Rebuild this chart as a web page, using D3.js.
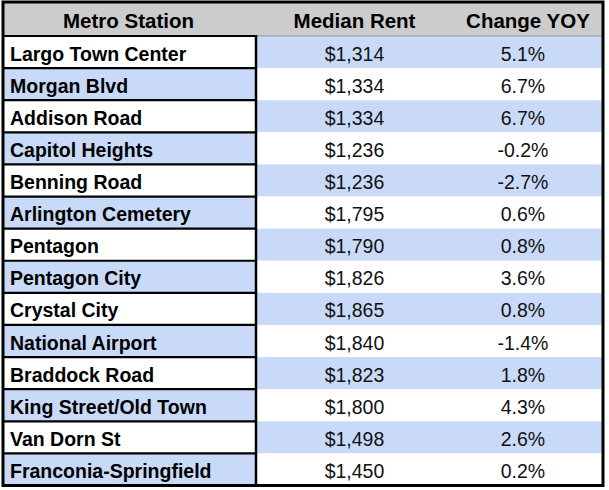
<!DOCTYPE html>
<html>
<head>
<meta charset="utf-8">
<script src="https://cdn.jsdelivr.net/npm/d3@7"></script>
<style>
html,body{margin:0;padding:0;background:#fff;}
svg{display:block;}
</style>
</head>
<body>
<script>
const headers = ["Metro Station", "Median Rent", "Change YOY"];
const stations = ["Largo Town Center","Morgan Blvd","Addison Road","Capitol Heights","Benning Road","Arlington Cemetery","Pentagon","Pentagon City","Crystal City","National Airport","Braddock Road","King Street/Old Town","Van Dorn St","Franconia-Springfield"];
const rents = [1314,1334,1334,1236,1236,1795,1790,1826,1865,1840,1823,1800,1498,1450];
const changes = [5.1,6.7,6.7,-0.2,-2.7,0.6,0.8,3.6,0.8,-1.4,1.8,4.3,2.6,0.2];

(function(){
const W = 609, H = 490;
const xL = 3, xR = 603, yT = 2, headBottom = 36, yB = 485.5;
const colEdges = [xL, 256, 453, xR];
const blue = "#c9daf8", gray = "#cccccc";

const svg = d3.select("body").append("svg").attr("width", W).attr("height", H);

const y = d3.scaleBand().domain(d3.range(stations.length)).range([headBottom, yB]).paddingInner(0).paddingOuter(0);
const loc = d3.formatLocale({decimal: ".", thousands: ",", grouping: [3], currency: ["$", ""], minus: "-"});
const fmtRent = loc.format("$,");
const fmtChg = v => loc.format(".1f")(v) + "%";

svg.append("rect").attr("x", xL).attr("y", yT).attr("width", xR-xL).attr("height", headBottom-yT).attr("fill", gray);

const rows = svg.selectAll("g.row").data(stations).join("g").attr("class","row")
  .attr("transform", (d,i) => `translate(0,${y(i)})`);

rows.append("rect").attr("x", colEdges[0]).attr("y", 0).attr("width", colEdges[1]-colEdges[0]).attr("height", y.bandwidth())
  .attr("fill", (d,i) => i % 2 ? blue : "#fff");
rows.append("rect").attr("x", colEdges[1]).attr("y", 0).attr("width", colEdges[3]-colEdges[1]).attr("height", y.bandwidth())
  .attr("fill", (d,i) => i % 2 ? "#fff" : blue);

const font = "Arial, 'Liberation Sans', sans-serif";
const fs = 19.5;
const base = 8.5;

rows.append("text").attr("x", 10).attr("y", y.bandwidth()/2 + base)
  .attr("font-family", font).attr("font-size", fs).attr("font-weight", "bold").attr("fill", "#000")
  .text(d => d);
rows.append("text").attr("x", (colEdges[1]+colEdges[2])/2).attr("y", y.bandwidth()/2 + base)
  .attr("text-anchor", "middle").attr("font-family", font).attr("font-size", fs).attr("fill", "#111")
  .text((d,i) => fmtRent(rents[i]));
rows.append("text").attr("x", (colEdges[2]+colEdges[3])/2 - 5).attr("y", y.bandwidth()/2 + base)
  .attr("text-anchor", "middle").attr("font-family", font).attr("font-size", fs).attr("fill", "#111")
  .text((d,i) => fmtChg(changes[i]));

const hx = [(colEdges[0]+colEdges[1])/2 - 1, (colEdges[1]+colEdges[2])/2, (colEdges[2]+colEdges[3])/2];
svg.selectAll("text.h").data(headers).join("text").attr("class","h")
  .attr("x", (d,i) => hx[i]).attr("y", (yT+headBottom)/2 + base + 0.5)
  .attr("text-anchor", "middle").attr("font-family", font).attr("font-size", 20.5).attr("font-weight", "bold").attr("fill", "#000")
  .text(d => d);

svg.selectAll("line.rl").data(d3.range(stations.length)).join("line").attr("class","rl")
  .attr("x1", xL).attr("x2", colEdges[1]).attr("y1", i => y(i)).attr("y2", i => y(i))
  .attr("stroke", "#000").attr("stroke-width", 2.2);
svg.append("line").attr("x1", colEdges[1]).attr("x2", xR).attr("y1", headBottom).attr("y2", headBottom)
  .attr("stroke", "#999").attr("stroke-width", 1);
svg.append("line").attr("x1", colEdges[1]).attr("x2", colEdges[1]).attr("y1", headBottom - 1).attr("y2", yB)
  .attr("stroke", "#000").attr("stroke-width", 2.5);
svg.append("rect").attr("x", xL).attr("y", yT).attr("width", xR-xL).attr("height", yB-yT)
  .attr("fill", "none").attr("stroke", "#000").attr("stroke-width", 3);
})();
</script>
</body>
</html>
